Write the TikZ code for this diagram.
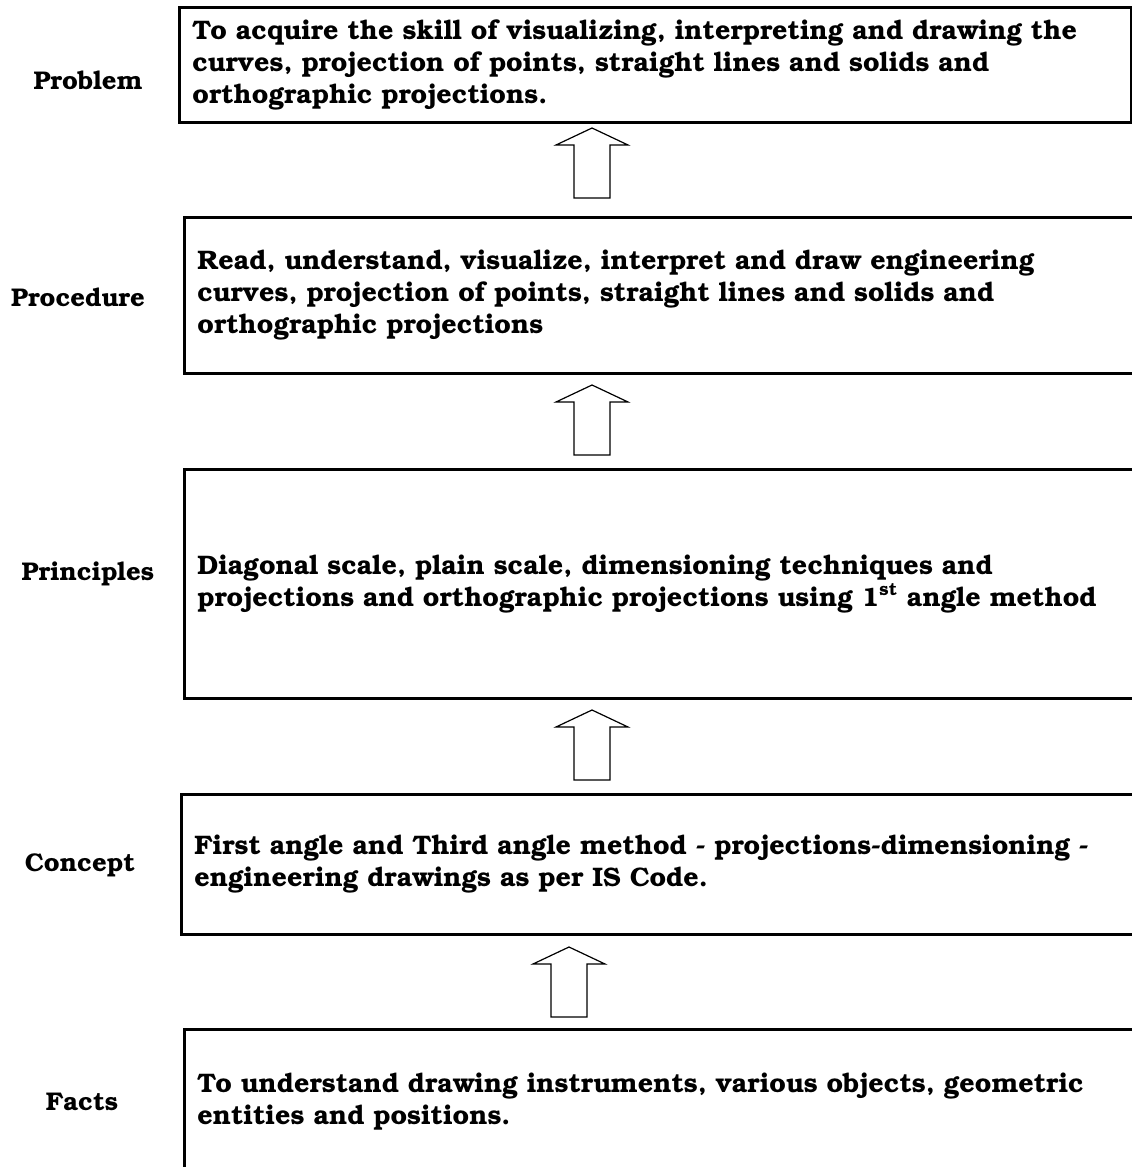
\documentclass[tikz,border=0pt]{standalone}
\usepackage[T1]{fontenc}
\usepackage{bookman}
\usepackage{tikz}
\usetikzlibrary{positioning,calc}

\begin{document}
\begin{tikzpicture}[x=0.5pt, y=-0.5pt, font=\bfseries\fontsize{13.4}{16}\selectfont]
  \tikzstyle{stage}=[draw, line width=1.4pt, anchor=north west, align=left, inner xsep=5.5pt, text width=463pt, minimum width=476pt]
  \tikzstyle{tag}=[anchor=center, font=\bfseries\fontsize{12.8}{16}\selectfont]
  \tikzstyle{uparrow}=[draw, line width=0.6pt, line join=miter, fill=white]
  \useasboundingbox (0,0) rectangle (1131,1167);

  % boxes, top to bottom
  \node[stage, minimum height=57.5pt] (prob) at (178,6) {To acquire the skill of visualizing, interpreting and drawing the\\curves, projection of points, straight lines and solids and\\orthographic projections.};
  \node[stage, minimum height=78pt] (proc) at (183,216) {Read, understand, visualize, interpret and draw engineering\\curves, projection of points, straight lines and solids and\\orthographic projections};
  \node[stage, minimum height=114.5pt] (prin) at (183,468) {Diagonal scale, plain scale, dimensioning techniques and\\projections and orthographic projections using 1\textsuperscript{\fontsize{9}{9}\selectfont st} angle method};
  \node[stage, minimum height=70pt] (conc) at (180,793) {First angle and Third angle method - projections-dimensioning -\\engineering drawings as per IS Code.};
  \node[stage, minimum height=72pt] (fact) at (183,1028) {To understand drawing instruments, various objects, geometric\\entities and positions.};

  % labels on the left
  \node[tag] (lprob) at (88,80) {Problem};
  \node[tag] (lproc) at (78,297) {Procedure};
  \node[tag] (lprin) at (88,574) {Principles};
  \node[tag] (lconc) at (80,865) {Concept};
  \node[tag] (lfact) at (82,1102) {Facts};

  % hollow arrows between the boxes
  \coordinate (a1) at (592,128);
  \coordinate (a2) at (592,385);
  \coordinate (a3) at (592,710);
  \coordinate (a4) at (569,947);
  \foreach \t in {a1,a2,a3,a4}
    \draw[uparrow] (\t) -- ++(36,17) -- ++(-18,0) -- ++(0,53) -- ++(-36,0) -- ++(0,-53) -- ++(-18,0) -- cycle;
\end{tikzpicture}
\end{document}
